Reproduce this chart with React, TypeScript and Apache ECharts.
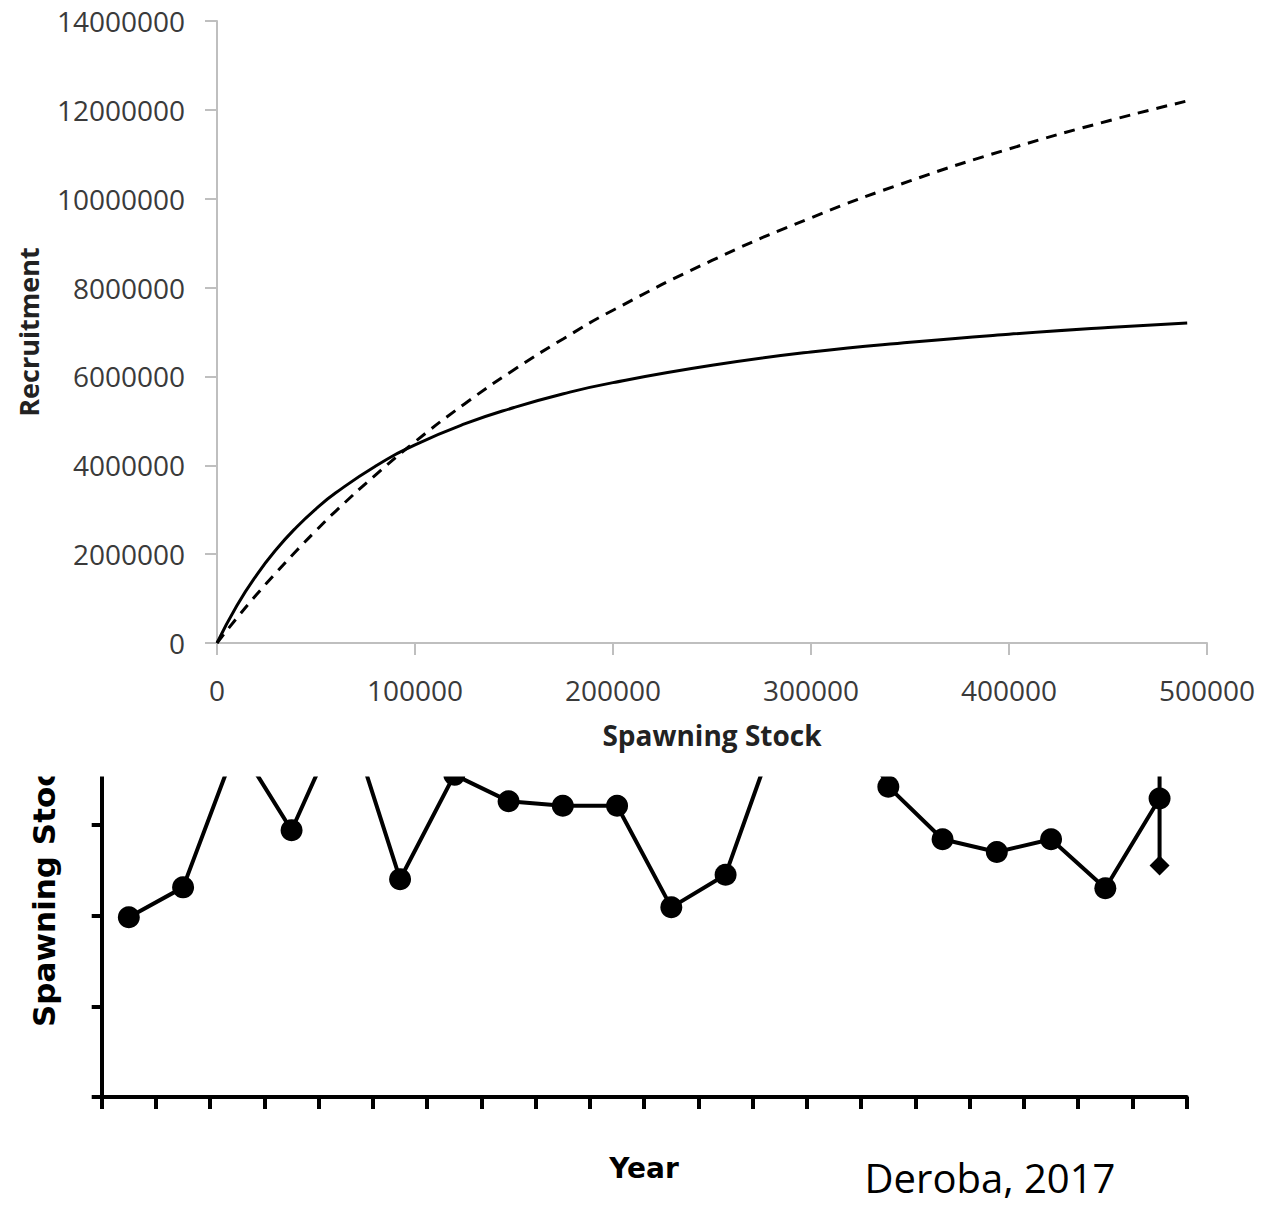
import React, { useEffect, useRef } from "react";
import * as echarts from "echarts";

// Top chart: stock–recruitment curves
const stockS = [0, 10000, 20000, 30000, 40000, 50000, 60000, 80000, 100000, 125000, 150000, 175000, 200000, 250000, 300000, 350000, 400000, 450000, 490000];
const recruitSolid = [0, 840000, 1530000, 2110000, 2600000, 3020000, 3380000, 3980000, 4460000, 4930000, 5300000, 5610000, 5860000, 6250000, 6550000, 6770000, 6950000, 7100000, 7200000];
const recruitDashed = [0, 560000, 1090000, 1590000, 2070000, 2530000, 2970000, 3780000, 4530000, 5380000, 6150000, 6850000, 7490000, 8610000, 9570000, 10400000, 11120000, 11750000, 12200000];

// Bottom chart: spawning stock time series (relative units, clipped at top)
const yearSlots = ["1", "2", "3", "4", "5", "6", "7", "8", "9", "10", "11", "12", "13", "14", "15", "16", "17", "18", "19", "20"];
const ssbValues = [1.98, 2.31, 3.9, 2.94, 4.27, 2.4, 3.55, 3.26, 3.21, 3.21, 2.09, 2.45, 4.13, 4.5, 3.42, 2.84, 2.7, 2.84, 2.3, 3.29];
const revisionSlot = "20";
const revisionValues = [4.0, 2.55];

export default function App() {
  const ref = useRef<HTMLDivElement>(null);
  useEffect(() => {
    document.body.style.margin = "0";
    const chart = echarts.init(ref.current!, null, { renderer: "svg" });
    const topFont = "'Open Sans', 'Noto Sans', sans-serif";
    const botFont = "'DejaVu Sans', sans-serif";
    const gray = "#bfbfbf";
    const option: any = {
      animation: false,
      backgroundColor: "#ffffff",
      grid: [
        { left: 217, top: 21, width: 990, height: 622 },
        { left: 101.7, top: 756.7, width: 1085, height: 340.3 },
      ],
      xAxis: [
        {
          type: "value",
          gridIndex: 0,
          min: 0,
          max: 500000,
          interval: 100000,
          axisLine: { show: true, lineStyle: { color: gray, width: 2 } },
          axisTick: { show: true, length: 12, lineStyle: { color: gray, width: 2 } },
          axisLabel: { fontSize: 28, color: "#3a3a3a", fontFamily: topFont, margin: 33, formatter: (v: number) => String(v) },
          splitLine: { show: false },
        },
        {
          type: "category",
          gridIndex: 1,
          data: yearSlots,
          boundaryGap: true,
          axisLine: { show: true, lineStyle: { color: "#000", width: 4 } },
          axisTick: { show: true, interval: 0, alignWithLabel: false, length: 12, lineStyle: { color: "#000", width: 4 } },
          axisLabel: { show: false },
          splitLine: { show: false },
        },
      ],
      yAxis: [
        {
          type: "value",
          gridIndex: 0,
          min: 0,
          max: 14000000,
          interval: 2000000,
          axisLine: { show: true, lineStyle: { color: gray, width: 2 } },
          axisTick: { show: true, length: 12, lineStyle: { color: gray, width: 2 } },
          axisLabel: { fontSize: 28, color: "#3a3a3a", fontFamily: topFont, margin: 32, formatter: (v: number) => String(v) },
          splitLine: { show: false },
        },
        {
          type: "value",
          gridIndex: 1,
          min: 0,
          max: 3.75,
          interval: 1,
          axisLine: { show: true, lineStyle: { color: "#000", width: 4 } },
          axisTick: { show: true, length: 10, lineStyle: { color: "#000", width: 4 } },
          axisLabel: { show: false },
          splitLine: { show: false },
        },
      ],
      series: [
        {
          type: "line",
          xAxisIndex: 0,
          yAxisIndex: 0,
          data: stockS.map((s, i) => [s, recruitSolid[i]]),
          smooth: true,
          symbol: "none",
          lineStyle: { color: "#000", width: 3 },
        },
        {
          type: "line",
          xAxisIndex: 0,
          yAxisIndex: 0,
          data: stockS.map((s, i) => [s, recruitDashed[i]]),
          smooth: true,
          symbol: "none",
          lineStyle: { color: "#000", width: 3, type: [11, 8] },
        },
        {
          type: "line",
          xAxisIndex: 1,
          yAxisIndex: 1,
          data: ssbValues,
          symbol: "circle",
          symbolSize: 22,
          clip: true,
          lineStyle: { color: "#000", width: 4 },
          itemStyle: { color: "#000" },
        },
        {
          type: "line",
          xAxisIndex: 1,
          yAxisIndex: 1,
          data: revisionValues.map((v) => [revisionSlot, v]),
          symbol: "diamond",
          symbolSize: 20,
          clip: true,
          lineStyle: { color: "#000", width: 4 },
          itemStyle: { color: "#000" },
        },
      ],
      graphic: [
        {
          type: "rect",
          z: 100,
          shape: { x: 15, y: 750, width: 1200, height: 26.5 },
          style: { fill: "#ffffff" },
        },
        {
          type: "text",
          z: 101,
          x: 28,
          y: 332,
          rotation: Math.PI / 2,
          style: { text: "Recruitment", fontSize: 27, fontWeight: "bold", fontFamily: topFont, fill: "#222", align: "center", verticalAlign: "middle" },
        },
        {
          type: "text",
          z: 101,
          x: 712,
          y: 735,
          style: { text: "Spawning Stock", fontSize: 28, fontWeight: "bold", fontFamily: topFont, fill: "#222", align: "center", verticalAlign: "middle" },
        },
        {
          type: "text",
          z: 50,
          x: 44,
          y: 1027,
          rotation: Math.PI / 2,
          style: { text: "Spawning Stoc", fontSize: 31, fontWeight: "bold", fontFamily: botFont, fill: "#000", align: "left", verticalAlign: "middle" },
        },
        {
          type: "text",
          z: 101,
          x: 644,
          y: 1168,
          style: { text: "Year", fontSize: 28, fontWeight: "bold", fontFamily: botFont, fill: "#000", align: "center", verticalAlign: "middle" },
        },
        {
          type: "text",
          z: 101,
          x: 990,
          y: 1177,
          style: { text: "Deroba, 2017", fontSize: 40, fontFamily: topFont, fill: "#000", align: "center", verticalAlign: "middle" },
        },
      ],
    };
    chart.setOption(option);
    return () => chart.dispose();
  }, []);
  return <div ref={ref} style={{ width: 1262, height: 1206 }} />;
}
